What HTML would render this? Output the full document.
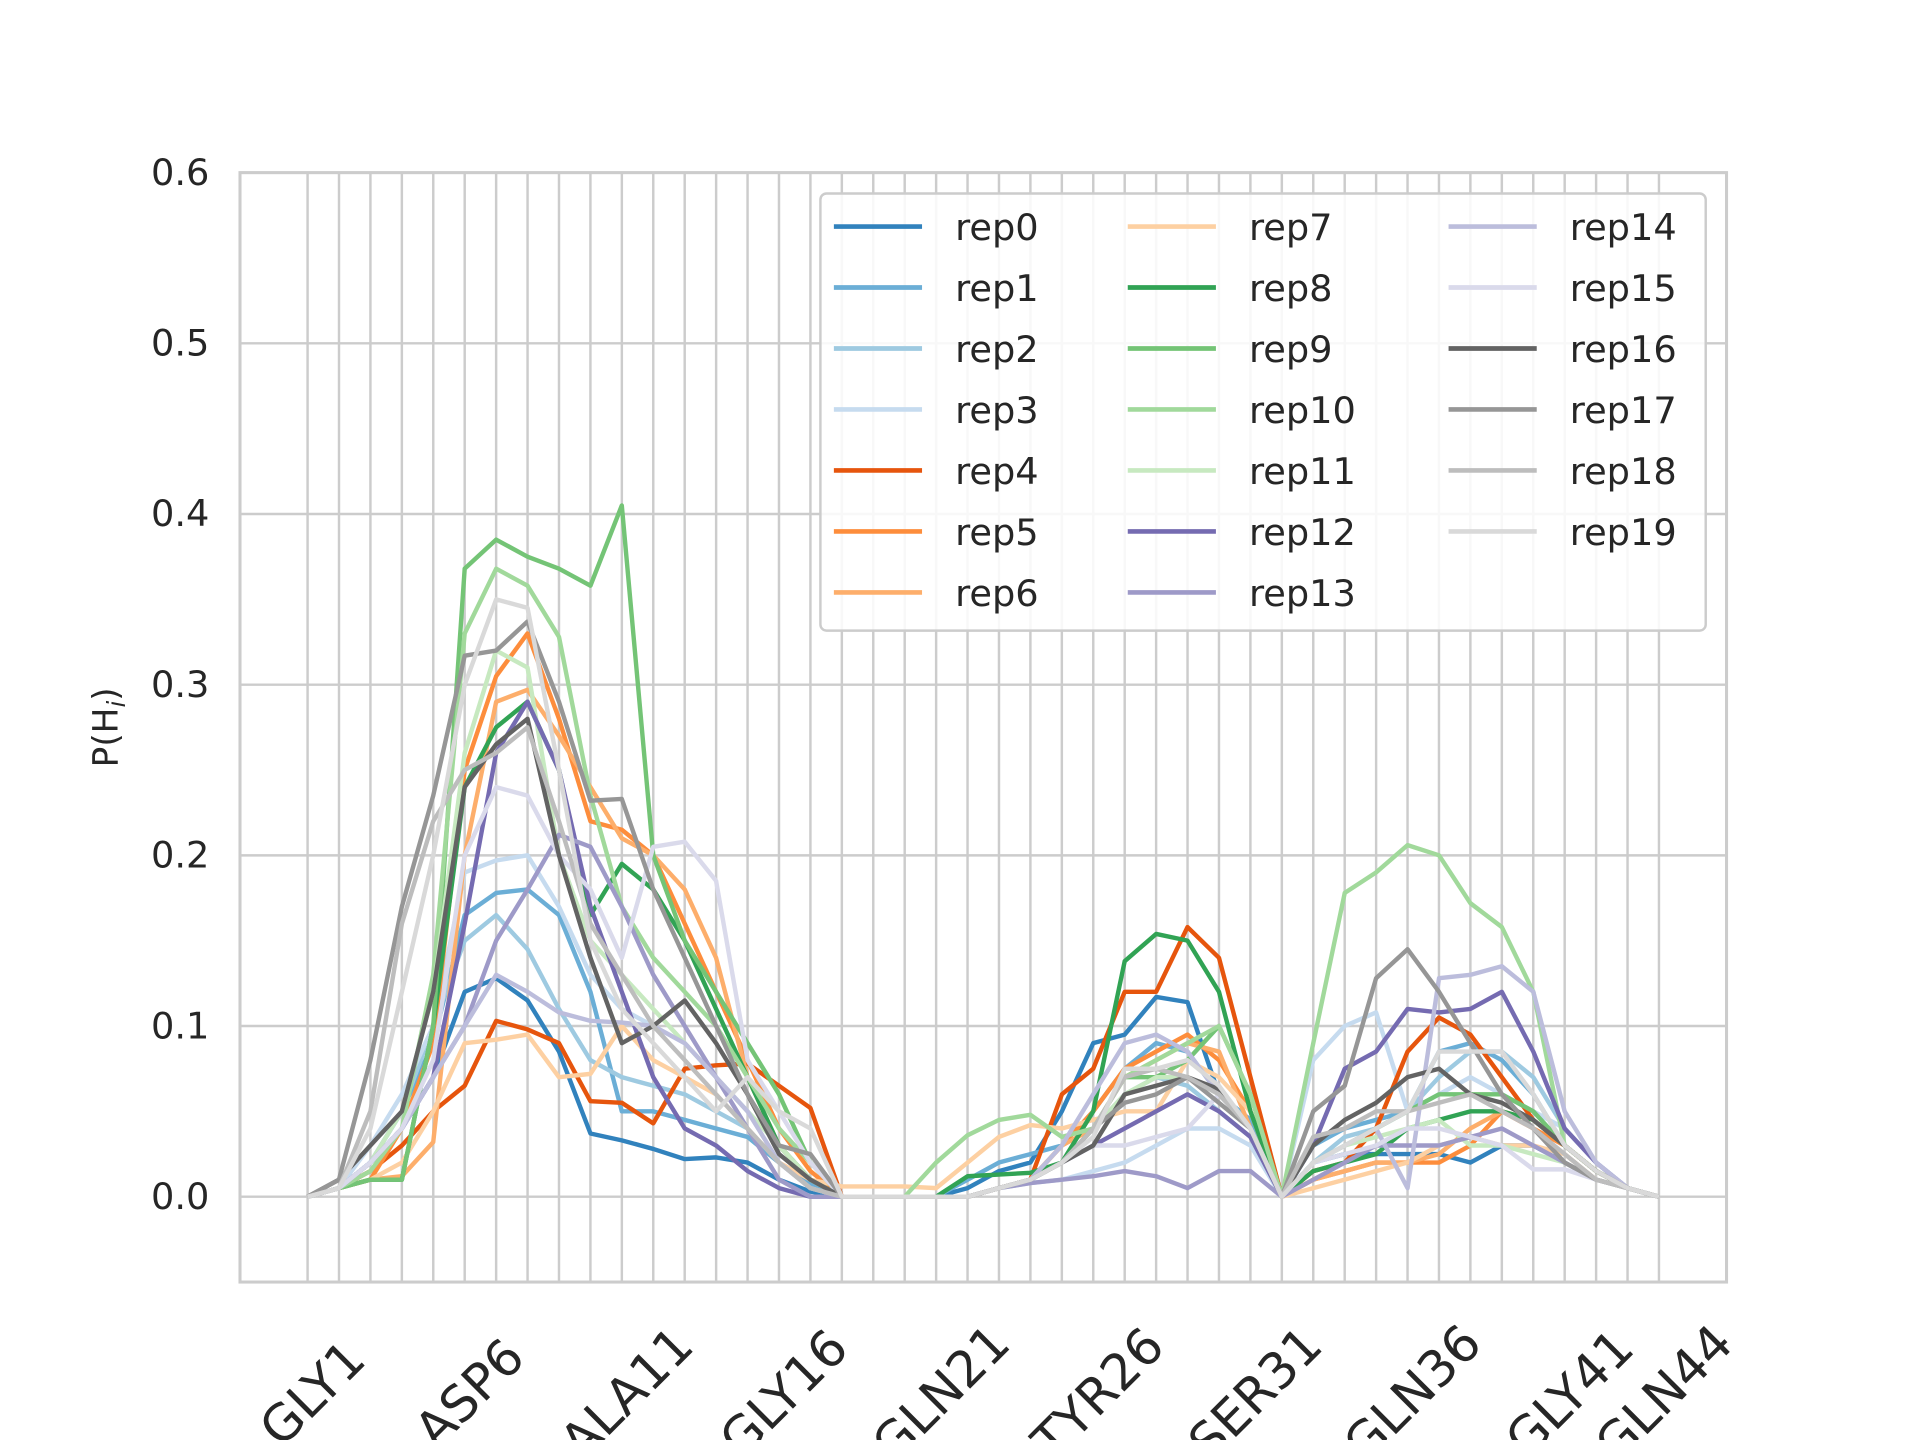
<!DOCTYPE html>
<html><head><meta charset="utf-8"><style>html,body{margin:0;padding:0;background:#fff}svg{display:block}</style></head>
<body>
<svg id="chart" width="1920" height="1440" viewBox="0 0 1568 1176" xmlns="http://www.w3.org/2000/svg" font-family="'DejaVu Sans','Liberation Sans',sans-serif">
<rect width="1568" height="1176" fill="#fff"/>
<g id="grid"></g>
<g id="series"></g>
<g id="legend"></g>
</svg>
<script>
const residues = ["GLY1","ASP6","ALA11","GLY16","GLN21","TYR26","SER31","GLN36","GLY41","GLN44"];
const residueIdx = [0,5,10,15,20,25,30,35,40,43];
const yTicks = [0.0,0.1,0.2,0.3,0.4,0.5,0.6];
const yTickLabels = ["0.0","0.1","0.2","0.3","0.4","0.5","0.6"];
const seriesNames = ["rep0","rep1","rep2","rep3","rep4","rep5","rep6","rep7","rep8","rep9","rep10","rep11","rep12","rep13","rep14","rep15","rep16","rep17","rep18","rep19"];
const colors = ["#3182bd","#6baed6","#9ecae1","#c6dbef","#e6550d","#fd8d3c","#fdae6b","#fdd0a2","#31a354","#74c476","#a1d99b","#c7e9c0","#756bb1","#9e9ac8","#bcbddc","#dadaeb","#636363","#969696","#bdbdbd","#d9d9d9"];
const rep0 = [0,.005,.02,.04,.07,.12,.128,.115,.085,.037,.033,.028,.022,.023,.02,.01,.003,0, 0,0,0,.005,.015,.02,.05,.09,.095,.117,.114,.06,.045,0, .02,.025,.025,.025,.025,.02,.03,.03,.02,.01,.005,0];
const rep1 = [0,.005,.02,.05,.09,.165,.178,.18,.165,.12,.05,.05,.045,.04,.035,.02,.008,0, 0,0,0,.01,.02,.025,.03,.05,.075,.09,.085,.06,.045,0, .03,.04,.045,.05,.085,.09,.08,.06,.03,.015,.005,0];
const rep2 = [0,.005,.02,.05,.1,.15,.165,.145,.11,.08,.07,.065,.06,.05,.04,.02,.005,0, 0,0,0,0,.005,.01,.02,.04,.06,.07,.065,.05,.035,0, .02,.035,.04,.05,.07,.085,.085,.07,.04,.02,.005,0];
const rep3 = [0,.005,.03,.06,.1,.19,.197,.2,.17,.13,.11,.1,.09,.07,.05,.03,.01,0, 0,0,0,0,.005,.008,.01,.015,.02,.03,.04,.04,.03,0, .08,.1,.108,.05,.06,.07,.06,.05,.04,.02,.005,0];
const rep4 = [0,.005,.015,.03,.05,.065,.103,.098,.09,.056,.055,.043,.075,.077,.078,.065,.052,0, 0,0,0,0,.005,.01,.06,.075,.12,.12,.158,.14,.07,0, .015,.02,.04,.085,.105,.095,.07,.045,.03,.015,.005,0];
const rep5 = [0,.005,.01,.04,.09,.25,.305,.33,.28,.22,.215,.2,.16,.12,.08,.04,.015,0, 0,0,0,0,.005,.01,.03,.05,.075,.085,.095,.08,.05,0, .01,.015,.02,.02,.02,.03,.05,.04,.03,.015,.005,0];
const rep6 = [0,.005,.01,.012,.032,.2,.29,.297,.27,.24,.21,.2,.18,.14,.07,.03,.01,0, 0,0,0,0,.005,.01,.03,.04,.07,.08,.09,.085,.04,0, .01,.015,.02,.02,.025,.04,.05,.045,.03,.015,.005,0];
const rep7 = [0,.005,.01,.02,.05,.09,.092,.095,.07,.072,.1,.08,.07,.06,.04,.02,.01,.006, .006,.006,.005,.02,.035,.042,.04,.045,.05,.05,.08,.07,.05,0, .005,.01,.015,.02,.03,.035,.03,.03,.025,.01,.005,0];
const rep8 = [0,.005,.01,.01,.1,.24,.275,.29,.25,.165,.195,.18,.15,.11,.07,.03,.01,0, 0,0,0,.012,.013,.014,.02,.05,.138,.154,.15,.12,.05,0, .015,.02,.025,.04,.045,.05,.05,.045,.03,.015,.005,0];
const rep9 = [0,.005,.01,.01,.1,.368,.385,.375,.368,.358,.405,.2,.15,.12,.09,.06,.02,0, 0,0,0,0,.005,.01,.02,.04,.07,.07,.08,.1,.06,0, .02,.03,.04,.05,.06,.06,.06,.05,.03,.015,.005,0];
const rep10 = [0,.005,.015,.04,.13,.33,.368,.358,.328,.235,.17,.14,.12,.1,.07,.04,.02,0, 0,0,.02,.036,.045,.048,.035,.04,.07,.08,.09,.1,.06,0, .09,.178,.19,.206,.2,.172,.158,.12,.03,.015,.005,0];
const rep11 = [0,.005,.02,.05,.12,.26,.32,.31,.2,.15,.13,.11,.09,.07,.05,.03,.01,0, 0,0,0,0,.005,.01,.02,.04,.06,.07,.07,.06,.04,0, .02,.03,.035,.04,.045,.03,.03,.025,.02,.01,.005,0];
const rep12 = [0,.005,.02,.04,.07,.16,.26,.29,.25,.17,.12,.07,.04,.03,.015,.005,0,0, 0,0,0,0,.005,.01,.02,.03,.04,.05,.06,.05,.035,0, .03,.075,.085,.11,.108,.11,.12,.085,.04,.02,.005,0];
const rep13 = [0,.005,.02,.04,.07,.1,.15,.18,.212,.205,.17,.13,.1,.07,.04,.01,0,0, 0,0,0,0,.005,.008,.01,.012,.015,.012,.005,.015,.015,0, .01,.02,.03,.03,.03,.035,.04,.03,.02,.01,.005,0];
const rep14 = [0,.005,.02,.04,.07,.1,.13,.12,.108,.103,.102,.1,.09,.07,.05,.02,.005,0, 0,0,0,0,.005,.01,.03,.06,.09,.095,.085,.06,.04,0, .02,.03,.04,.005,.128,.13,.135,.12,.05,.02,.005,0];
const rep15 = [0,.005,.02,.04,.08,.2,.24,.235,.2,.18,.14,.205,.208,.185,.08,.05,.02,0, 0,0,0,0,.005,.01,.02,.03,.03,.035,.04,.06,.04,0, .02,.025,.03,.04,.04,.035,.03,.016,.016,.01,.005,0];
const rep16 = [0,.01,.03,.05,.12,.24,.265,.28,.2,.14,.09,.1,.115,.09,.06,.025,.01,0, 0,0,0,0,.005,.01,.02,.03,.06,.065,.07,.063,.04,0, .03,.045,.055,.07,.075,.06,.055,.045,.03,.015,.005,0];
const rep17 = [0,.01,.08,.17,.235,.317,.32,.337,.29,.232,.233,.18,.14,.1,.06,.03,.025,0, 0,0,0,0,.005,.01,.02,.04,.055,.06,.07,.055,.04,0, .05,.065,.128,.145,.12,.09,.06,.04,.02,.01,.005,0];
const rep18 = [0,.005,.05,.16,.22,.25,.26,.275,.22,.16,.13,.1,.08,.06,.04,.02,.005,0, 0,0,0,0,.005,.01,.02,.04,.07,.075,.07,.06,.04,0, .035,.04,.05,.05,.055,.06,.05,.04,.025,.01,.005,0];
const rep19 = [0,.005,.04,.12,.2,.3,.35,.345,.25,.15,.11,.09,.07,.05,.07,.05,.04,0, 0,0,0,0,.005,.01,.02,.035,.075,.075,.08,.065,.04,0, .02,.03,.04,.05,.085,.085,.085,.06,.03,.015,.005,0];
const seriesData = [rep0,rep1,rep2,rep3,rep4,rep5,rep6,rep7,rep8,rep9,rep10,rep11,rep12,rep13,rep14,rep15,rep16,rep17,rep18,rep19];

const NS = "http://www.w3.org/2000/svg";
const L=196,R=1410,T=141,B=1047;
const xMin=-2.15,xMax=45.15,yMin=-0.05,yMax=0.6;
const xs = i => L + (i-xMin)/(xMax-xMin)*(R-L);
const ys = v => B - (v-yMin)/(yMax-yMin)*(B-T);
function mk(tag, attrs, parent){const e=document.createElementNS(NS,tag);for(const k in attrs)e.setAttribute(k,attrs[k]);parent.appendChild(e);return e;}
const grid=document.getElementById('grid');
for(let i=0;i<44;i++){
  const g=mk('line',{x1:xs(i),x2:xs(i),y1:T,y2:B,stroke:'#cccccc','stroke-width':2},grid);
  
  
}
yTicks.forEach((v,k)=>{
  const g=mk('line',{x1:L,x2:R,y1:ys(v),y2:ys(v),stroke:'#cccccc','stroke-width':2},grid);
  
  
  const t=mk('text',{x:171,y:ys(v)+10,'text-anchor':'end','font-size':30,fill:'#262626'},grid);
  t.textContent=yTickLabels[k];
  
  
});
const frame=mk('rect',{x:L,y:T,width:R-L,height:B-T,fill:'none',stroke:'#cccccc','stroke-width':2.5},grid);


residues.forEach((r,k)=>{
  const cx=xs(residueIdx[k])+4, cy=1138;
  const t=mk('text',{x:cx,y:cy+14,'text-anchor':'middle','font-size':41,fill:'#262626',transform:`rotate(-45 ${cx} ${cy})`},grid);
  t.textContent=r;
  
  
});
const yl=mk('text',{x:0,y:0,'text-anchor':'middle','font-size':28,fill:'#262626',transform:'translate(96 594) rotate(-90)'},grid);
yl.innerHTML='P(H<tspan font-style="italic" font-size="20" dy="6">i</tspan><tspan dy="-6">)</tspan>';



const sg=document.getElementById('series');
seriesData.forEach((d,s)=>{
  const pts=d.map((v,i)=>xs(i).toFixed(1)+','+ys(v).toFixed(1)).join(' ');
  const p=mk('polyline',{points:pts,fill:'none',stroke:colors[s],'stroke-width':3.6,'stroke-linejoin':'round'},sg);
  
  
});

const lg=document.getElementById('legend');
const box=mk('rect',{x:670,y:158,width:723,height:357,rx:5,fill:'#fff','fill-opacity':0.85,stroke:'#cccccc','stroke-width':2},lg);


const colX=[681,921,1183];
seriesNames.forEach((n,s)=>{
  const c=Math.floor(s/7), r=s%7;
  const y=185+r*49.8, x=colX[c];
  const ln=mk('line',{x1:x,x2:x+72,y1:y,y2:y,stroke:colors[s],'stroke-width':3.8},lg);
  
  
  const t=mk('text',{x:x+99,y:y+11,'font-size':30,fill:'#262626'},lg);
  t.textContent=n;
  
  
});
</script>
</body></html>
